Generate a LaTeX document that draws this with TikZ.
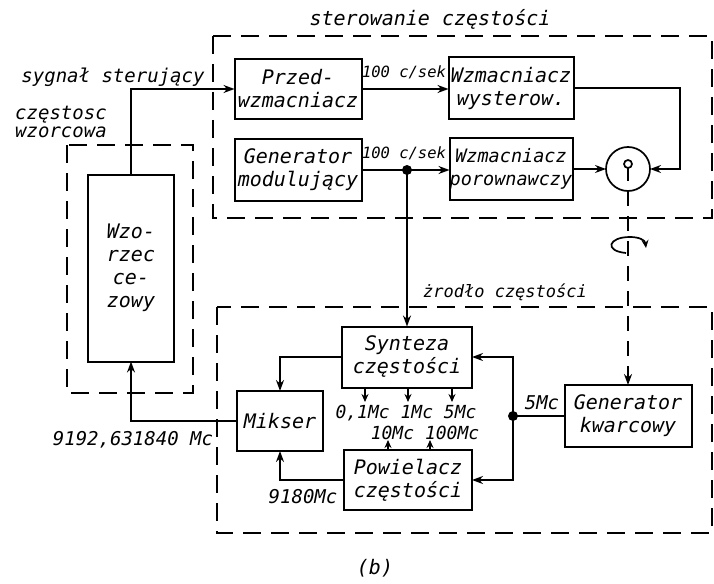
\documentclass[tikz,border=0pt]{standalone}
\usepackage{fontspec}
\setmainfont{DejaVu Sans Mono}
\usetikzlibrary{arrows.meta}
\begin{document}
\begin{tikzpicture}[x=1pt,y=-1pt,
  every node/.style={inner sep=0pt, outer sep=0pt},
  blk/.style={draw, line width=2pt, align=center, font=\itshape\fontsize{20}{23}\selectfont},
  grp/.style={draw, line width=1.5pt, dash pattern=on 18pt off 10pt},
  con/.style={line width=1.7pt},
  arr/.style={con, -{Stealth[length=11pt,width=8pt]}},
  sarr/.style={con, -{Stealth[length=8pt,width=7pt]}},
  lab/.style={font=\itshape\fontsize{19}{18}\selectfont, align=center},
  small/.style={font=\itshape\fontsize{15.5}{18}\selectfont},
]
\useasboundingbox (0,0) rectangle (714,583);

% groups
\draw[grp] (213,36) rectangle (712,218);
\draw[grp] (217,307) rectangle (712,533);
\draw[grp] (67,145) rectangle (193,393);

% blocks
\node[blk, minimum width=127pt, minimum height=60pt] (przed) at (298,89) {Przed-\\wzmacniacz};
\node[blk, minimum width=125pt, minimum height=62pt] (wyst) at (511,88) {Wzmacniacz\\wysterow.};
\node[blk, minimum width=127pt, minimum height=62pt] (genmod) at (298,170) {Generator\\modulujący};
\node[blk, minimum width=123pt, minimum height=62pt, font=\itshape\fontsize{18.5}{23}\selectfont] (porow) at (511,169) {Wzmacniacz\\porownawczy};
\node[draw, circle, line width=1.7pt, minimum size=44pt] (circ) at (628,169) {};
\draw[con] (628,164) circle (4);
\draw[con] (628,168) -- (628,181);

\node[blk, minimum width=86pt, minimum height=187pt] (wzor) at (131,268) {Wzo-\\rzec\\ce-\\zowy};
\node[blk, minimum width=130pt, minimum height=61pt] (synt) at (407,357) {Synteza\\częstości};
\node[blk, minimum width=128pt, minimum height=60pt] (powiel) at (408,480) {Powielacz\\częstości};
\node[blk, minimum width=86pt, minimum height=60pt] (mikser) at (280,421) {Mikser};
\node[blk, minimum width=127pt, minimum height=62pt] (genkw) at (628,416) {Generator\\kwarcowy};

% connectors top
\draw[arr] (wzor.north) |- (przed.west);
\draw[arr] (przed.east) -- (przed.east -| wyst.west);
\draw[arr] (genmod.east) -- (genmod.east -| porow.west);
\coordinate (d1) at (synt.north |- genmod.east);
\fill (d1) circle (5);
\draw[arr] (d1) -- (synt.north);
\draw[arr] (porow.east) -- (circ.west);
\coordinate (rt) at (680,0);
\draw[arr] (wyst.east) -| (rt |- circ.east) -- (circ.east);
\draw[arr, dash pattern=on 15pt off 10pt] (circ.south) -- (genkw.north);
\draw[con, -{Stealth[length=8pt,width=7pt]}] (626,253) .. controls (604,251) and (608,237) .. (630,237) .. controls (639,237) and (645,240) .. (646,248);

% connectors bottom
\coordinate (d2) at (513,416);
\fill (d2) circle (5);
\draw[con] (genkw.west) -- (d2);
\draw[arr] (d2) |- (synt.east);
\draw[arr] (d2) |- (powiel.east);
\draw[arr] (synt.west) -| (mikser.north);
\draw[arr] (powiel.west) -| (mikser.south);
\draw[arr] (mikser.west) -| (wzor.south);
\foreach \n/\x in {a/365,b/408,c/452} {
  \coordinate (s\n) at (\x,402);
  \draw[sarr] (s\n |- synt.south) -- (s\n);
}
\coordinate (u1) at (388,440);
\coordinate (u2) at (430,440);
\draw[sarr] (u1 |- powiel.north) -- (u1);
\draw[sarr] (u2 |- powiel.north) -- (u2);

% labels
\node[lab, font=\itshape\fontsize{20}{18}\selectfont] (t1) at (430,19) {sterowanie częstości};
\node[lab] (t2) at (113,77) {sygnał sterujący};
\node[lab, align=left] (t3) at (61,122) {częstosc\\wzorcowa};
\node[small] (l1) at (404,72) {100 c/sek};
\node[small] (l2) at (404,153) {100 c/sek};
\node[lab, font=\itshape\fontsize{17}{18}\selectfont] (t4) at (505,292) {żrodło częstości};
\node[lab, font=\itshape\fontsize{18}{18}\selectfont] (l3) at (406,413) {0,1Mc 1Mc 5Mc};
\node[lab, font=\itshape\fontsize{18}{18}\selectfont] (l4) at (425,433) {10Mc 100Mc};
\node[lab] (l5) at (542,403) {5Mc};
\node[lab] (l6) at (133,440) {9192,631840 Mc};
\node[lab] (l7) at (303,497) {9180Mc};
\node[lab, font=\itshape\fontsize{20}{18}\selectfont] (l8) at (375,568) {(b)};
\end{tikzpicture}
\end{document}
